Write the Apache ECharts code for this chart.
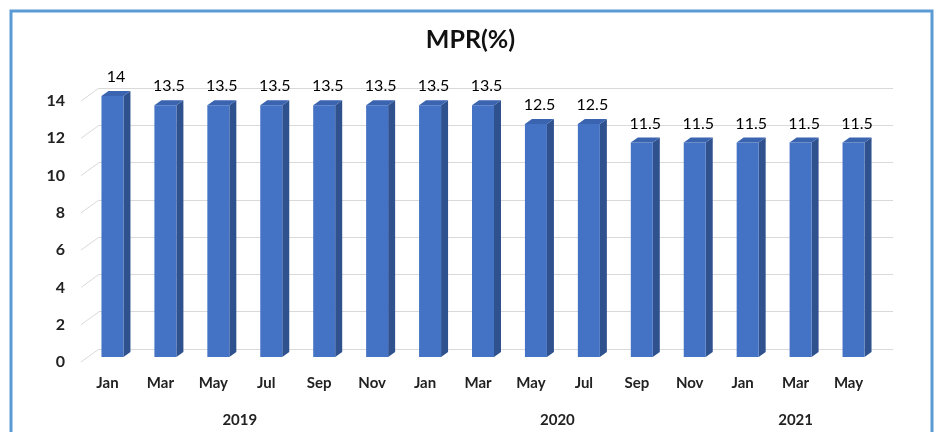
<!DOCTYPE html>
<html>
<head>
<meta charset="utf-8">
<title>MPR(%)</title>
<script src="https://cdn.jsdelivr.net/npm/echarts@6/dist/echarts.min.js"></script>
<style>
  html, body { margin: 0; padding: 0; background: #fff; }
  #main { width: 941px; height: 432px; }
</style>
</head>
<body>
<div id="main"></div>
<script>
// months on the axis
const months = ['Jan', 'Mar', 'May', 'Jul', 'Sep', 'Nov', 'Jan', 'Mar', 'May', 'Jul', 'Sep', 'Nov', 'Jan', 'Mar', 'May'];
// MPR values (%)
const mprValues = [14, 13.5, 13.5, 13.5, 13.5, 13.5, 13.5, 13.5, 12.5, 12.5, 11.5, 11.5, 11.5, 11.5, 11.5];
// second level of the category axis
const yearNames = ['2019', '2020', '2021'];
const yearStart = [0, 6, 12];
const yearEnd = [5, 11, 14];
// y ticks
const yTicks = [0, 2, 4, 6, 8, 10, 12, 14];

const FONT = 'Lato, "Open Sans", sans-serif';
const chart = echarts.init(document.getElementById('main'));

const barData = months.map((m, i) => [i, mprValues[i]]);
const tickData = yTicks.map(v => [0, v]);
const yearData = yearNames.map((n, i) => [yearStart[i], yearEnd[i], n]);

// 3d looking bar: front face, side face, top face, label
function renderBar(params, api) {
  const base = api.coord([api.value(0), 0]);
  const top = api.coord([api.value(0), api.value(1)]);
  const w = 22, dx = 7, dy = -5;
  const x0 = base[0] - w / 2;
  return {
    type: 'group',
    children: [
      {
        type: 'polygon',
        shape: { points: [[x0 + w, top[1]], [x0 + w + dx, top[1] + dy], [x0 + w + dx, base[1] + dy], [x0 + w, base[1]]] },
        style: { fill: '#2f528f' }
      },
      {
        type: 'rect',
        shape: { x: x0, y: top[1], width: w, height: base[1] - top[1] },
        style: { fill: '#4472c4' }
      },
      {
        type: 'polygon',
        shape: { points: [[x0, top[1]], [x0 + dx, top[1] + dy], [x0 + w + dx, top[1] + dy], [x0 + w, top[1]]] },
        style: { fill: '#3b64b0' }
      },
      {
        type: 'text',
        style: {
          text: String(api.value(1)),
          x: x0 + (w + dx) / 2,
          y: top[1] + dy - 14,
          align: 'center',
          verticalAlign: 'middle',
          fill: '#000',
          fontSize: 16,
          fontFamily: FONT
        }
      }
    ]
  };
}

const option = {
  animation: false,
  title: {
    text: 'MPR(%)',
    left: 'center',
    top: 22,
    textStyle: { fontSize: 25, fontWeight: 'bold', color: '#111', fontFamily: FONT }
  },
  graphic: [{
    type: 'rect',
    shape: { x: 11, y: 11, width: 921, height: 440 },
    style: { fill: 'none', stroke: '#5b9bd5', lineWidth: 3 }
  }],
  grid: [
    // back wall (gridlines)
    { left: 99, right: 48, top: 88, bottom: 83 },
    // front plane (axis labels)
    { left: 81, right: 66, top: 101, bottom: 70 },
    // bars
    { left: 86, right: 61, top: 96, bottom: 75 }
  ],
  xAxis: [
    { gridIndex: 0, type: 'category', data: months, show: false },
    {
      gridIndex: 1, type: 'category', data: months,
      axisLine: { show: false }, axisTick: { show: false },
      axisLabel: { margin: 14, fontSize: 15, fontWeight: 'bold', color: '#222', fontFamily: FONT, interval: 0 }
    },
    { gridIndex: 2, type: 'category', data: months, show: false }
  ],
  yAxis: [
    {
      gridIndex: 0, type: 'value', min: 0, max: 14, interval: 2,
      axisLine: { show: false }, axisTick: { show: false }, axisLabel: { show: false },
      splitLine: { lineStyle: { color: '#d9d9d9', width: 1 } }
    },
    {
      gridIndex: 1, type: 'value', min: 0, max: 14, interval: 2,
      axisLine: { show: false }, axisTick: { show: false }, splitLine: { show: false },
      axisLabel: { margin: 16, fontSize: 16, fontWeight: 'bold', color: '#222', fontFamily: FONT }
    },
    { gridIndex: 2, type: 'value', min: 0, max: 14, show: false }
  ],
  series: [
    {
      // short slanted lines joining labels to the back wall
      type: 'custom',
      xAxisIndex: 1, yAxisIndex: 1,
      data: tickData,
      renderItem: function (params, api) {
        const p = api.coord([0, api.value(1)]);
        const half = api.size([1, 0])[0] / 2;
        const x = p[0] - half;
        return {
          type: 'line',
          shape: { x1: x, y1: p[1], x2: x + 18, y2: p[1] - 13 },
          style: { stroke: '#d9d9d9', lineWidth: 1 }
        };
      },
      silent: true
    },
    {
      // year row under the months
      type: 'custom',
      xAxisIndex: 1, yAxisIndex: 1,
      data: yearData,
      encode: { x: [0, 1] },
      renderItem: function (params, api) {
        const a = api.coord([api.value(0), 0]);
        const b = api.coord([api.value(1), 0]);
        return {
          type: 'text',
          style: {
            text: yearNames[params.dataIndex],
            x: (a[0] + b[0]) / 2,
            y: a[1] + 58,
            align: 'center',
            verticalAlign: 'middle',
            fontSize: 15,
            fontWeight: 'bold',
            fill: '#222',
            fontFamily: FONT
          }
        };
      },
      silent: true
    },
    {
      name: 'MPR',
      type: 'custom',
      xAxisIndex: 2, yAxisIndex: 2,
      data: barData,
      renderItem: renderBar
    }
  ]
};

chart.setOption(option);
</script>
</body>
</html>
